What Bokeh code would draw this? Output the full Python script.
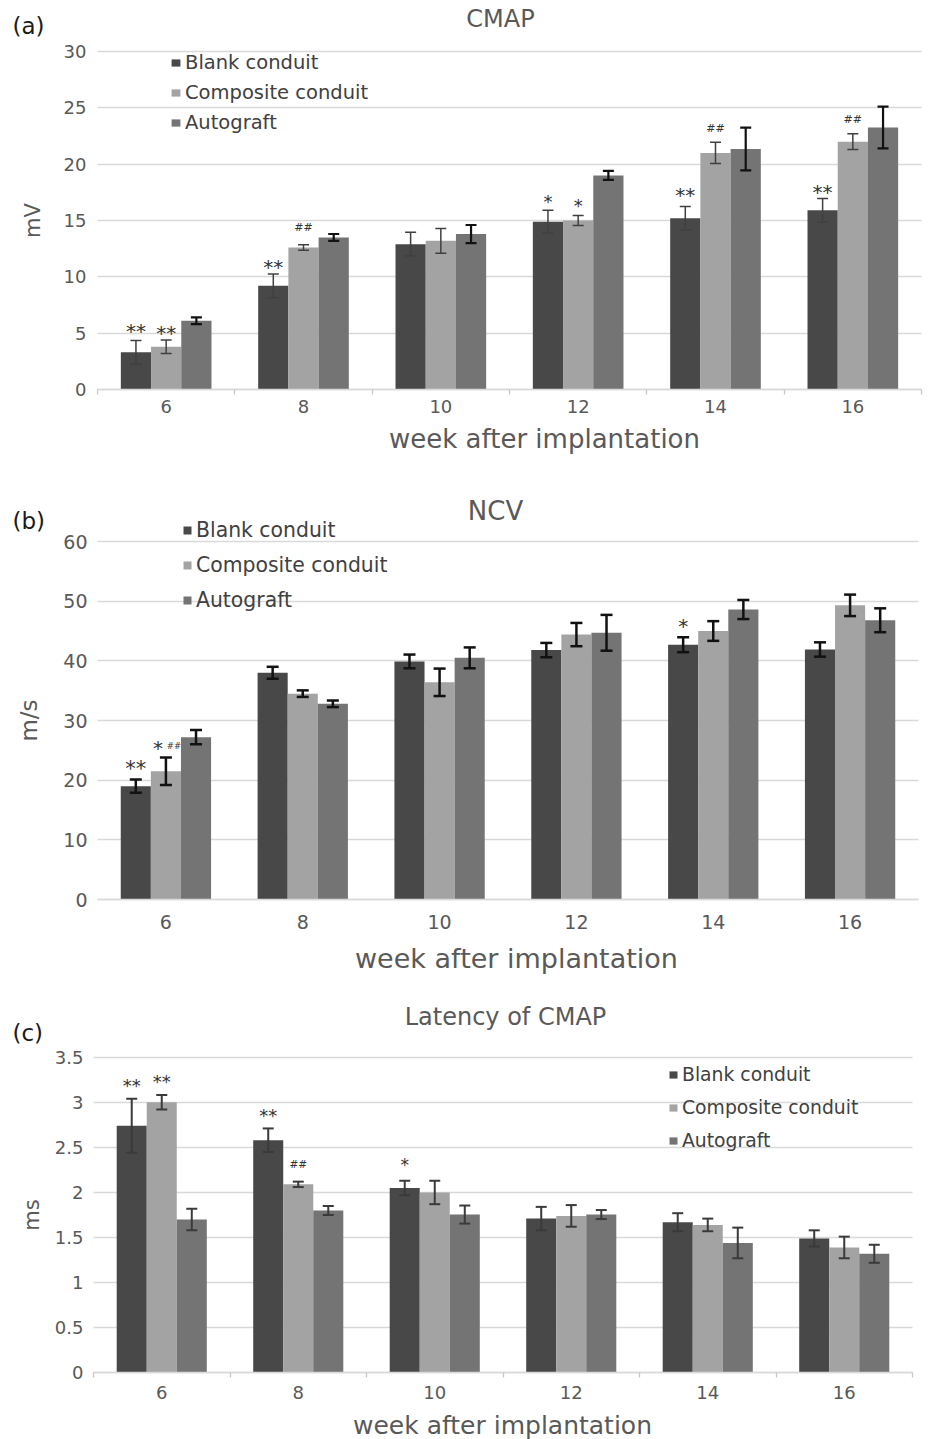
import numpy as np
from bokeh.plotting import figure
from bokeh.models import (ColumnDataSource, Whisker, TeeHead, Legend, LegendItem, Label,
                          FixedTicker, NumeralTickFormatter, Range1d)
from bokeh.layouts import column
from bokeh.embed import file_html
from bokeh.resources import INLINE
from bokeh.core.properties import value

# ---------------- data ----------------
weeks = ["6", "8", "10", "12", "14", "16"]
series_names = ["Blank conduit", "Composite conduit", "Autograft"]

# (a) CMAP amplitude, mV
cmap_blank = [3.3, 9.2, 12.9, 14.9, 15.2, 15.9]
cmap_blank_err = [1.05, 1.05, 1.05, 1.0, 1.05, 1.05]
cmap_comp = [3.8, 12.6, 13.2, 15.0, 21.0, 22.0]
cmap_comp_err = [0.6, 0.25, 1.1, 0.45, 0.95, 0.7]
cmap_auto = [6.1, 13.5, 13.8, 19.0, 21.35, 23.25]
cmap_auto_err = [0.3, 0.3, 0.8, 0.4, 1.9, 1.85]
cmap_ann_week = [0, 0, 1, 1, 3, 3, 4, 4, 5, 5]
cmap_ann_series = [0, 1, 0, 1, 0, 1, 0, 1, 0, 1]
cmap_ann_text = ["**", "**", "**", "##", "*", "*", "**", "##", "**", "##"]

# (b) NCV, m/s
ncv_blank = [19.0, 38.0, 39.9, 41.8, 42.7, 41.9]
ncv_blank_err = [1.1, 1.0, 1.15, 1.2, 1.25, 1.2]
ncv_comp = [21.5, 34.5, 36.4, 44.4, 45.0, 49.3]
ncv_comp_err = [2.3, 0.55, 2.3, 1.95, 1.65, 1.8]
ncv_auto = [27.2, 32.8, 40.5, 44.7, 48.6, 46.8]
ncv_auto_err = [1.2, 0.55, 1.75, 3.0, 1.6, 2.0]
ncv_ann_week = [0, 0, 0, 4]
ncv_ann_series = [0, 1, 1, 0]
ncv_ann_text = ["**", "*", "##", "*"]

# (c) Latency of CMAP, ms
lat_blank = [2.74, 2.58, 2.05, 1.71, 1.67, 1.49]
lat_blank_err = [0.3, 0.13, 0.08, 0.13, 0.1, 0.09]
lat_comp = [3.0, 2.09, 2.0, 1.74, 1.64, 1.39]
lat_comp_err = [0.08, 0.03, 0.13, 0.12, 0.07, 0.12]
lat_auto = [1.70, 1.80, 1.755, 1.755, 1.44, 1.32]
lat_auto_err = [0.12, 0.05, 0.1, 0.05, 0.17, 0.1]
lat_ann_week = [0, 0, 1, 1, 2]
lat_ann_series = [0, 1, 0, 1, 0]
lat_ann_text = ["**", "**", "**", "##", "*"]

x_title = "week after implantation"

# ---------------- style / layout ----------------
FONT = "DejaVu Sans"
BAR_COLORS = ["#484848", "#a3a3a3", "#747474"]
TEXT_C = "#595959"
GRID_C = "#d9d9d9"
BAR_W = 0.22
OFFSETS = [-0.22, 0.0, 0.22]
W = 928

panels = [
    dict(tag="(a)", title="CMAP", ylabel="mV", ymax=30, yticks=[0, 5, 10, 15, 20, 25, 30], yfmt=None,
         means=[cmap_blank, cmap_comp, cmap_auto], errs=[cmap_blank_err, cmap_comp_err, cmap_auto_err],
         ann=(cmap_ann_week, cmap_ann_series, cmap_ann_text),
         ann_dx=[0] * 10, ann_gap=[12, 10, 10, 17, 12, 13, 14, 14, 10, 14],
         ann_fs={"**": 20, "*": 18, "##": 11},
         H=470, L=97, R=921, T=51, B=389,
         tick_fs=18, xlab_fs=26, ylab_fs=21, title_fs=24, tag_fs=23, leg_fs=19.5,
         x_lab_so=5, y_lab_so=11, y_axl_so=16,
         leg_xy=(170, 336), leg_glyph=(11, 9), leg_spacing=7,
         wcol=["#404040", "#404040", "#111111"], wwid=[1.5, 1.5, 2.2], tee=11, minor=True,
         title_px=(500, 18), tag_px=(12, 25), xlab_px=(544, 438)),
    dict(tag="(b)", title="NCV", ylabel="m/s", ymax=60, yticks=[0, 10, 20, 30, 40, 50, 60], yfmt=None,
         means=[ncv_blank, ncv_comp, ncv_auto], errs=[ncv_blank_err, ncv_comp_err, ncv_auto_err],
         ann=(ncv_ann_week, ncv_ann_series, ncv_ann_text),
         ann_dx=[0, -8, 8, 0], ann_gap=[14, 12, 11, 14],
         ann_fs={"**": 21, "*": 20, "##": 8.5},
         H=515, L=97, R=918, T=71, B=429,
         tick_fs=19, xlab_fs=27, ylab_fs=23, title_fs=26, tag_fs=23, leg_fs=20.4,
         x_lab_so=11, y_lab_so=10, y_axl_so=18,
         leg_xy=(182, 373), leg_glyph=(10, 10), leg_spacing=11,
         wcol=["#111111"] * 3, wwid=[2.5] * 3, tee=12, minor=False,
         title_px=(495, 40.5), tag_px=(12, 50), xlab_px=(516, 488)),
    dict(tag="(c)", title="Latency of CMAP", ylabel="ms", ymax=3.5,
         yticks=[0, 0.5, 1, 1.5, 2, 2.5, 3, 3.5], yfmt="0.[0]",
         means=[lat_blank, lat_comp, lat_auto], errs=[lat_blank_err, lat_comp_err, lat_auto_err],
         ann=(lat_ann_week, lat_ann_series, lat_ann_text),
         ann_dx=[0] * 5, ann_gap=[16, 16, 16, 18, 18],
         ann_fs={"**": 18, "*": 17, "##": 10.5},
         H=454, L=93, R=912, T=71.7, B=387.3,
         tick_fs=18, xlab_fs=25, ylab_fs=21, title_fs=24, tag_fs=23, leg_fs=18.8,
         x_lab_so=8, y_lab_so=10, y_axl_so=8,
         leg_xy=(668, 288), leg_glyph=(10, 9), leg_spacing=12,
         wcol=["#3a3a3a"] * 3, wwid=[2.0] * 3, tee=11, minor=True,
         title_px=(505, 31.7), tag_px=(12, 47), xlab_px=(502, 440)),
]


def build(cfg):
    n = len(weeks)
    ymax = cfg["ymax"]
    H, L, R, T, B = cfg["H"], cfg["L"], cfg["R"], cfg["T"], cfg["B"]
    xpp = n / (R - L)          # data units per pixel
    ypp = ymax / (B - T)

    def dx(px):
        return -0.5 + (px - L) * xpp

    def dy(py):
        return (B - py) * ypp

    # the frame covers the whole figure; axes sit at fixed locations inside it
    p = figure(width=W, height=H, x_range=Range1d(dx(0), dx(W)), y_range=Range1d(dy(H), dy(0)),
               output_backend="svg", toolbar_location=None, min_border=0, title=None)
    p.outline_line_color = None
    p.background_fill_color = "white"
    p.border_fill_color = "white"
    p.xgrid.visible = False
    p.ygrid.grid_line_color = GRID_C
    p.ygrid.grid_line_width = 1.5
    p.ygrid.ticker = FixedTicker(ticks=cfg["yticks"])
    p.ygrid.cross_bounds = (-0.5, n - 0.5)

    # x axis
    xa = p.xaxis[0]
    xa.fixed_location = 0
    xa.bounds = (-0.5, n - 0.5)
    xa.ticker = FixedTicker(ticks=list(range(n)), minor_ticks=[i - 0.5 for i in range(n + 1)])
    xa.major_label_overrides = {i: w for i, w in enumerate(weeks)}
    xa.major_tick_line_color = None
    xa.major_tick_out = 0
    xa.major_tick_in = 0
    if cfg["minor"]:
        xa.minor_tick_line_color = "#c8c8c8"
        xa.minor_tick_line_width = 1.3
        xa.minor_tick_out = 5
        xa.minor_tick_in = 0
    else:
        xa.minor_tick_line_color = None
    xa.axis_line_color = GRID_C
    xa.axis_line_width = 1.5
    xa.major_label_text_font = FONT
    xa.major_label_text_font_size = f"{cfg['tick_fs']}px"
    xa.major_label_text_color = TEXT_C
    xa.major_label_standoff = cfg["x_lab_so"]

    # y axis
    ya = p.yaxis[0]
    ya.fixed_location = -0.5
    ya.bounds = (0, ymax)
    ya.ticker = FixedTicker(ticks=cfg["yticks"])
    if cfg["yfmt"]:
        ya.formatter = NumeralTickFormatter(format=cfg["yfmt"])
    ya.axis_line_color = None
    ya.major_tick_line_color = None
    ya.minor_tick_line_color = None
    ya.major_tick_out = 0
    ya.major_tick_in = 0
    ya.major_label_text_font = FONT
    ya.major_label_text_font_size = f"{cfg['tick_fs']}px"
    ya.major_label_text_color = TEXT_C
    ya.major_label_standoff = cfg["y_lab_so"]
    ya.axis_label = cfg["ylabel"]
    ya.axis_label_text_font = FONT
    ya.axis_label_text_font_style = "normal"
    ya.axis_label_text_font_size = f"{cfg['ylab_fs']}px"
    ya.axis_label_text_color = TEXT_C
    ya.axis_label_standoff = cfg["y_axl_so"]

    idx = np.arange(n)
    items = []
    for s in range(3):
        xs = idx + OFFSETS[s]
        m = np.array(cfg["means"][s], dtype=float)
        e = np.array(cfg["errs"][s], dtype=float)
        src = ColumnDataSource(dict(x=xs, top=m, upper=m + e, lower=m - e))
        r = p.vbar(x="x", top="top", width=BAR_W, bottom=0, source=src,
                   fill_color=BAR_COLORS[s], line_color=None)
        items.append(LegendItem(label=series_names[s], renderers=[r]))
        wk = Whisker(source=src, base="x", upper="upper", lower="lower", dimension="height",
                     line_color=cfg["wcol"][s], line_width=cfg["wwid"][s], level="annotation",
                     upper_head=TeeHead(size=cfg["tee"], line_color=cfg["wcol"][s], line_width=cfg["wwid"][s]),
                     lower_head=TeeHead(size=cfg["tee"], line_color=cfg["wcol"][s], line_width=cfg["wwid"][s]))
        p.add_layout(wk)

    # significance marks, centred a few pixels above the error-bar tops
    aw, aser, atxt = cfg["ann"]
    ax, ay, fs, yo, xo = [], [], [], [], []
    for k in range(len(atxt)):
        w_, s_ = aw[k], aser[k]
        top = cfg["means"][s_][w_] + cfg["errs"][s_][w_]
        size = cfg["ann_fs"][atxt[k]]
        gap = cfg["ann_gap"][k]
        lift = 0.15 * size if "*" in atxt[k] else 0.0
        ax.append(w_ + OFFSETS[s_])
        ay.append(top)
        fs.append(f"{size}px")
        yo.append(-(gap - lift))
        xo.append(cfg["ann_dx"][k])
    asrc = ColumnDataSource(dict(x=ax, y=ay, t=atxt, fs=fs, yo=yo, xo=xo))
    p.text(x="x", y="y", text="t", source=asrc, text_font=value(FONT), text_font_size="fs",
           text_align="center", text_baseline="alphabetic", y_offset="yo", x_offset="xo",
           text_color="#333333")

    legend = Legend(items=items, location=cfg["leg_xy"], orientation="vertical",
                    glyph_width=cfg["leg_glyph"][0], glyph_height=cfg["leg_glyph"][1],
                    label_height=10, spacing=cfg["leg_spacing"], padding=0, margin=0,
                    label_standoff=4, label_text_font=FONT,
                    label_text_font_size=f"{cfg['leg_fs']}px", label_text_color="#404040",
                    background_fill_alpha=0, border_line_alpha=0)
    p.add_layout(legend)

    tx, ty = cfg["title_px"]
    p.add_layout(Label(x=dx(tx), y=dy(ty), text=cfg["title"], text_align="center",
                       text_baseline="alphabetic", text_font=FONT,
                       text_font_size=f"{cfg['title_fs']}px", text_color=TEXT_C))
    gx, gy = cfg["tag_px"]
    p.add_layout(Label(x=dx(gx), y=dy(gy), text=cfg["tag"], text_align="left",
                       text_baseline="alphabetic", text_font=FONT,
                       text_font_size=f"{cfg['tag_fs']}px", text_color="#1a1a1a"))
    lx, ly = cfg["xlab_px"]
    p.add_layout(Label(x=dx(lx), y=dy(ly), text=x_title, text_align="center",
                       text_baseline="alphabetic", text_font=FONT,
                       text_font_size=f"{cfg['xlab_fs']}px", text_color=TEXT_C))
    return p


figs = [build(c) for c in panels]
layout = column(*figs, spacing=0)

with open("out.html", "w") as f:
    f.write(file_html(layout, INLINE))
